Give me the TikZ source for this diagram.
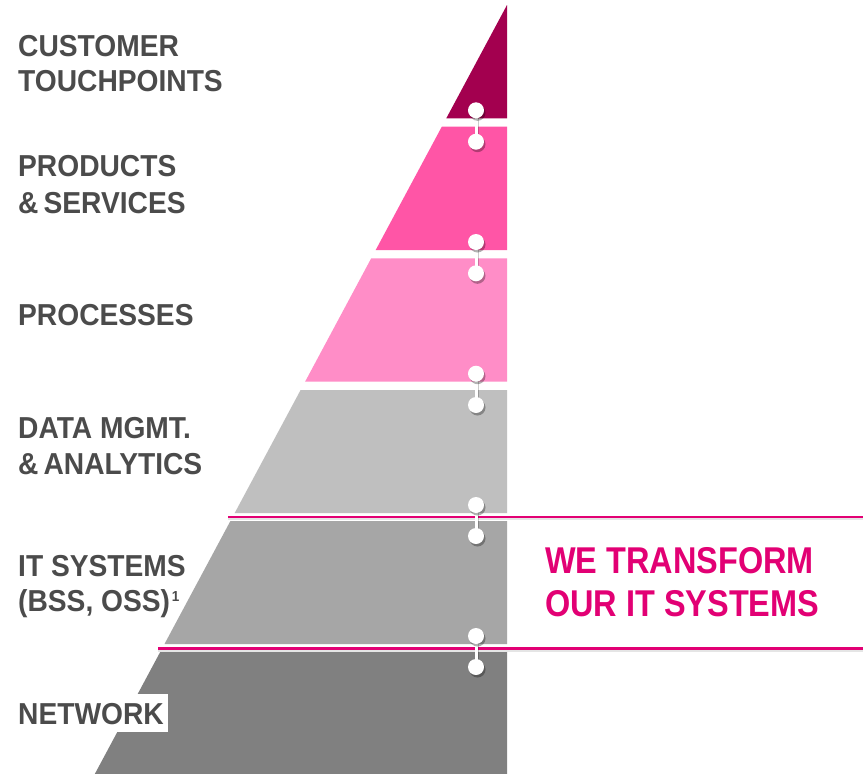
\documentclass[tikz,border=0pt]{standalone}
\usepackage{fontspec}
\setmainfont{Liberation Sans}
\newfontfamily\labfont[FakeStretch=0.93]{Liberation Sans}
\newfontfamily\bigfont[FakeStretch=0.87]{Liberation Sans}
\usetikzlibrary{shadows}
\definecolor{bandA}{HTML}{A3004F}
\definecolor{bandB}{HTML}{FF55A6}
\definecolor{bandC}{HTML}{FF8DC7}
\definecolor{bandD}{HTML}{BFBFBF}
\definecolor{bandE}{HTML}{A6A6A6}
\definecolor{bandF}{HTML}{808080}
\definecolor{labgrey}{HTML}{4B4B4B}
\definecolor{tmag}{HTML}{E20074}
\tikzset{
  lab/.style={anchor=base west, inner sep=0pt, text=labgrey, font=\labfont\bfseries\fontsize{30.3}{35}\selectfont},
  suplab/.style={anchor=base west, inner sep=0pt, text=labgrey, font=\labfont\bfseries\fontsize{14.5}{16}\selectfont},
  big/.style={anchor=base west, inner sep=0pt, text=tmag, font=\bigfont\bfseries\fontsize{37.3}{43}\selectfont},
  dot/.style={circle, fill=white, inner sep=0pt, minimum size=16pt,
    drop shadow={shadow xshift=1.5pt, shadow yshift=-2.5pt, opacity=0.3, fill=black}},
  link/.style={draw=white, line width=3pt},
  linkshadow/.style={draw=black, opacity=0.2, line width=3pt},
  magline/.style={draw=tmag, line width=2.7pt},
  maglineshadow/.style={draw=black, opacity=0.1, line width=2pt}
}
\begin{document}
\begin{tikzpicture}[x=1pt,y=-1pt]
\useasboundingbox (0,0) rectangle (863,774);
\fill[white] (0,0) rectangle (863,774);
% bands
\fill[bandA] (507,5) -- (507,118.3) -- (446.3,118.3) -- cycle;
\fill[bandB] (441.8,126.7) -- (507,126.7) -- (507,250) -- (375.7,250) -- cycle;
\fill[bandC] (371.2,258.3) -- (507,258.3) -- (507,381.7) -- (305.1,381.7) -- cycle;
\fill[bandD] (300.6,390) -- (507,390) -- (507,513) -- (234.7,513) -- cycle;
\fill[bandE] (230.4,521) -- (507,521) -- (507,644) -- (164.5,644) -- cycle;
\fill[bandF] (160.2,652) -- (507,652) -- (507,774) -- (94.8,774) -- cycle;
% magenta lines
\coordinate (m1a) at (228.3,516.9);
\coordinate (m1b) at (863,516.9);
\coordinate (m2a) at (158.3,648.3);
\coordinate (m2b) at (863,648.3);
\draw[maglineshadow] ([yshift=-2.2pt]m1a) -- ([yshift=-2.2pt]m1b);
\draw[maglineshadow] ([yshift=-2.2pt]m2a) -- ([yshift=-2.2pt]m2b);
\draw[magline] (m1a) -- (m1b);
\draw[magline] (m2a) -- (m2b);
% connectors
\foreach \i/\u/\l in {1/110.3/141.7, 2/242/273.3, 3/373.7/405, 4/505/536, 5/636/667}{
  \coordinate (u\i) at (476,\u);
  \coordinate (l\i) at (476,\l);
  \draw[linkshadow] ([shift={(1.5pt,-2pt)}]u\i) -- ([shift={(1.5pt,-2pt)}]l\i);
  \draw[link] (u\i) -- (l\i);
  \node[dot] (du\i) at (u\i) {};
  \node[dot] (dl\i) at (l\i) {};
}
% labels
\node[lab] (t1a) at (18,56.7) {CUSTOMER};
\node[lab] (t1b) at (18,91.7) {TOUCHPOINTS};
\node[lab] (t2a) at (18,176.7) {PRODUCTS};
\node[lab] (t2b) at (18,213) {\&\,SERVICES};
\node[lab] (t3a) at (18,325) {PROCESSES};
\node[lab] (t4a) at (18,438.3) {DATA MGMT.};
\node[lab] (t4b) at (18,474.5) {\&\,ANALYTICS};
\node[lab] (t5a) at (18,576) {IT SYSTEMS};
\node[lab] (t5b) at (18,611.5) {(BSS, OSS)};
\node[suplab] (t5s) at ([xshift=1.5pt,yshift=10pt]t5b.base east) {1};
\fill[white] (0,694) rectangle (168,732);
\node[lab] (t6a) at (18,724) {NETWORK};
\node[big] (w1) at (545,573.3) {WE TRANSFORM};
\node[big] (w2) at (545,616) {OUR IT SYSTEMS};
\end{tikzpicture}
\end{document}
